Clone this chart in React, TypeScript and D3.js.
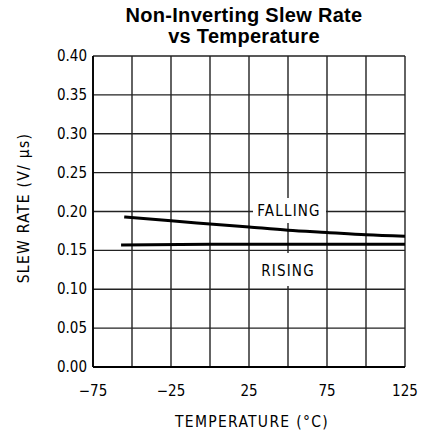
import React from "react";
import * as d3 from "d3";

const xTicks = [-75, -50, -25, 0, 25, 50, 75, 100, 125];
const xLabels = [-75, -25, 25, 75, 125];
const yTicks = [0, 0.05, 0.1, 0.15, 0.2, 0.25, 0.3, 0.35, 0.4];

const fallingTemp = [-55, -25, 0, 25, 50, 75, 100, 125];
const fallingRate = [0.193, 0.188, 0.184, 0.18, 0.176, 0.173, 0.17, 0.168];
const risingTemp = [-57, 0, 50, 125];
const risingRate = [0.157, 0.158, 0.158, 0.158];

const W = 422, H = 435;
const m = { left: 93, right: 17, top: 56, bottom: 68 };

export default function App() {
  const x = d3.scaleLinear().domain([-75, 125]).range([m.left, W - m.right]);
  const y = d3.scaleLinear().domain([0, 0.4]).range([H - m.bottom, m.top]);
  const line = d3.line<[number, number]>().x(d => x(d[0])).y(d => y(d[1])).curve(d3.curveMonotoneX);
  const falling = line(fallingTemp.map((t, i) => [t, fallingRate[i]]) as [number, number][]) || "";
  const rising = line(risingTemp.map((t, i) => [t, risingRate[i]]) as [number, number][]) || "";
  const lab = "'DejaVu Sans Condensed', 'DejaVu Sans', sans-serif";
  const tf = "'Liberation Sans', Arial, sans-serif";
  return (
    <svg width={W} height={H} style={{ position: "absolute", left: 0, top: 0 }}>
      <rect width={W} height={H} fill="#fff" />
      <text x={244} y={22} textAnchor="middle" fontFamily={tf} fontWeight="bold" fontSize={20} letterSpacing={0.3}>Non-Inverting Slew Rate</text>
      <text x={244} y={43} textAnchor="middle" fontFamily={tf} fontWeight="bold" fontSize={20} letterSpacing={0.3}>vs Temperature</text>
      {xTicks.map(t => (
        <line key={"vx" + t} x1={x(t)} x2={x(t)} y1={y(0)} y2={y(0.4)} stroke="#222" strokeWidth={1.4} />
      ))}
      {yTicks.map(t => (
        <line key={"hy" + t} x1={x(-75)} x2={x(125)} y1={y(t)} y2={y(t)} stroke="#222" strokeWidth={1.4} />
      ))}
      <line x1={x(-75)} x2={x(-75)} y1={y(0)} y2={y(0.4)} stroke="#000" strokeWidth={1.8} />
      <line x1={x(-75)} x2={x(125)} y1={y(0)} y2={y(0)} stroke="#000" strokeWidth={1.8} />
      <path d={falling} fill="none" stroke="#000" strokeWidth={3} />
      <path d={rising} fill="none" stroke="#000" strokeWidth={3} />
      <rect x={253} y={198} width={73} height={25} fill="#fff" />
      <text x={289} y={216} textAnchor="middle" fontFamily={lab} fontSize={15} letterSpacing={1.2}>FALLING</text>
      <rect x={258} y={253} width={61} height={33} fill="#fff" />
      <text x={288} y={276} textAnchor="middle" fontFamily={lab} fontSize={15} letterSpacing={1.2}>RISING</text>
      {yTicks.map(t => (
        <text key={"yl" + t} x={x(-75) - 6} y={y(t) + 5} textAnchor="end" fontFamily={lab} fontSize={15}>{t.toFixed(2)}</text>
      ))}
      {xLabels.map(t => (
        <text key={"xl" + t} x={x(t)} y={396} textAnchor="middle" fontFamily={lab} fontSize={15}>{t < 0 ? "\u2212" + Math.abs(t) : String(t)}</text>
      ))}
      <text x={252} y={427} textAnchor="middle" fontFamily={lab} fontSize={15.5} letterSpacing={1.3}>TEMPERATURE (°C)</text>
      <text transform="translate(29,208) rotate(-90)" textAnchor="middle" fontFamily={lab} fontSize={15.5} letterSpacing={1.3}>SLEW RATE (V/ μs)</text>
    </svg>
  );
}
